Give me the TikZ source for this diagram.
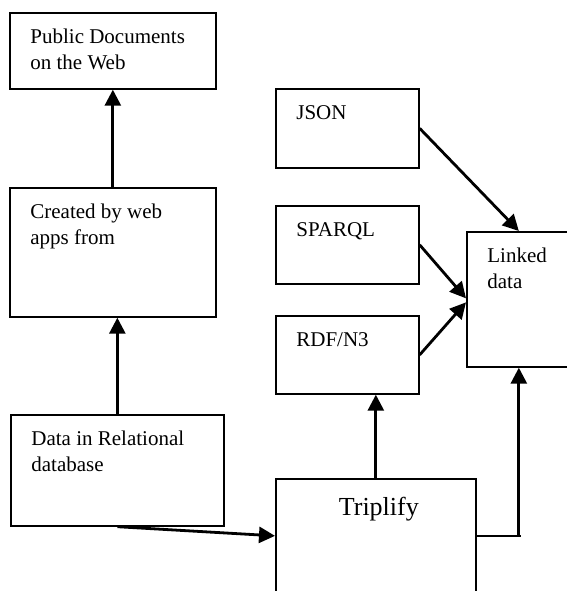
\documentclass[tikz,border=0pt]{standalone}
\usepackage{fontspec}
\setmainfont{Liberation Serif}
\usetikzlibrary{arrows.meta,positioning,calc}
\tikzstyle{block}=[draw,rectangle,anchor=north west,inner sep=0pt,line width=0.85pt]
\tikzstyle{blocktext}=[anchor=north west,align=left,inner sep=0pt,font=\fontsize{10.5}{13}\selectfont]
\tikzstyle{link}=[line width=1.4pt,-{Triangle[length=8pt,width=8pt]}]

\begin{document}
\begin{tikzpicture}[x=0.5pt,y=-0.5pt]
\useasboundingbox (0,0) rectangle (567,591);
% left column
\node [block, minimum width=103pt, minimum height=38pt] (pub) at (9,12) {};
\node [block, minimum width=103pt, minimum height=64.5pt] (web) at (9,187) {};
\node [block, minimum width=106.5pt, minimum height=55.5pt] (data) at (10,414) {};
% formats
\node [block, minimum width=71.5pt, minimum height=39.5pt] (json) at (275,88) {};
\node [block, minimum width=71.5pt, minimum height=39pt] (sparql) at (275,205) {};
\node [block, minimum width=71.5pt, minimum height=39pt] (rdf) at (275,315) {};
\node [block, minimum width=52pt, minimum height=67.5pt] (linked) at (466,231) {};
\node [block, minimum width=100pt, minimum height=57pt] (trip) at (275,478) {};
% texts
\node [blocktext] (pubtext) at ($(pub.north west)+(21,17)$) {Public Documents\\on the Web};
\node [blocktext] (webtext) at ($(web.north west)+(21,17)$) {Created by web\\apps from};
\node [blocktext] (datatext) at ($(data.north west)+(21,17)$) {Data in Relational\\database};
\node [blocktext] (jsontext) at ($(json.north west)+(21,17)$) {JSON};
\node [blocktext] (sparqltext) at ($(sparql.north west)+(21,17)$) {SPARQL};
\node [blocktext] (rdftext) at ($(rdf.north west)+(21,17)$) {RDF/N3};
\node [blocktext] (linkedtext) at ($(linked.north west)+(21,17)$) {Linked\\data};
\node [anchor=north, inner sep=0pt, font=\fontsize{13}{15}\selectfont] (triptext) at ($(trip.north)+(3,19)$) {Triplify};
% connectors
\draw [link] (web.north) -- (pub.south);
\draw [link] (data.north) -- (data.north |- web.south);
\draw [link] (data.south) -- (trip.west);
\draw [link] (trip.north) -- (trip.north |- rdf.south);
\draw [link] (json.east) -- (linked.north);
\draw [link] (sparql.east) -- ($(linked.west)+(0,-1)$);
\draw [link] (rdf.east) -- ($(linked.west)+(0,3)$);
\coordinate (bend) at (trip.east -| linked.south);
\draw [line width=0.85pt] (trip.east) -- ($(bend)+(2,0)$);
\draw [link] (bend) -- (linked.south);
\end{tikzpicture}
\end{document}
